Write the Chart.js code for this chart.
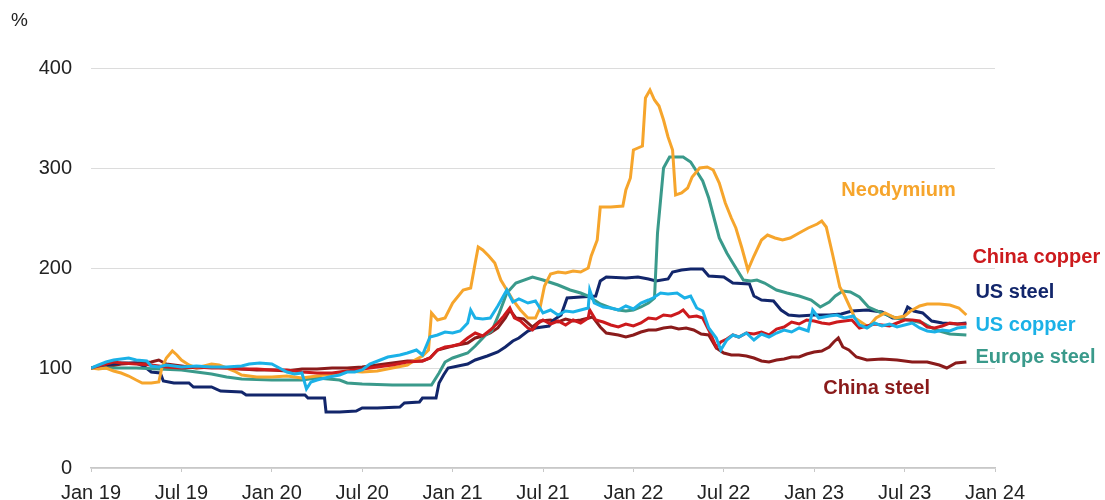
<!DOCTYPE html>
<html>
<head>
<meta charset="utf-8">
<script src="https://cdn.jsdelivr.net/npm/chart.js@4.4.0/dist/chart.umd.min.js"></script>
<style>
  html, body { margin: 0; padding: 0; background: #fff; }
</style>
</head>
<body>
<canvas id="metalChart" width="1105" height="500"></canvas>
<script>
// x values are months since Jan 2019
var xTickLabels = ["Jan 19", "Jul 19", "Jan 20", "Jul 20", "Jan 21", "Jul 21",
  "Jan 22", "Jul 22", "Jan 23", "Jul 23", "Jan 24"];

var seriesNames = ["Neodymium", "China copper", "US steel", "US copper", "Europe steel", "China steel"];

var ndMonths = [0, 0.5, 1, 1.5, 2, 2.5, 3, 3.4, 4, 4.5, 4.7, 5, 5.4, 5.7, 6, 6.5, 7, 7.5, 8, 8.5, 9, 9.5, 10, 11, 12, 13, 14, 15, 16, 17, 18, 19, 20, 21, 21.5, 22, 22.4, 22.6, 23, 23.5, 24, 24.7, 25.2, 25.5, 25.7, 26, 26.4, 26.8, 27.2, 27.6, 28, 28.5, 29, 29.5, 29.8, 30.1, 30.5, 31, 31.5, 32, 32.5, 33, 33.2, 33.6, 33.8, 34.5, 35.3, 35.5, 35.8, 36, 36.3, 36.6, 36.8, 37.1, 37.4, 37.7, 38, 38.3, 38.6, 38.8, 39.2, 39.6, 39.9, 40.4, 40.9, 41.3, 41.7, 42.1, 42.5, 42.8, 43.2, 43.6, 44, 44.5, 44.9, 45.4, 45.9, 46.4, 47, 47.6, 48.2, 48.5, 48.8, 49.2, 49.7, 50, 50.4, 50.7, 51.2, 51.6, 52.1, 52.7, 53.4, 54, 54.4, 55, 55.5, 56.3, 57, 57.6, 58.1];
var ndValues = [100, 99, 100, 97, 95, 92, 88, 85, 85, 86, 100, 110, 117, 113, 108, 103, 100, 102, 104, 103, 100, 97, 93, 91, 91, 92, 90, 92, 94, 97, 96, 97, 100, 103, 108, 112, 118, 155, 148, 150, 165, 178, 180, 205, 221, 218, 212, 205, 188, 178, 168, 158, 150, 150, 160, 182, 194, 196, 195, 197, 196, 200, 212, 228, 261, 261, 262, 278, 290, 318, 320, 322, 370, 378, 368, 362, 348, 331, 318, 273, 275, 280, 291, 300, 301, 298, 285, 265, 250, 240, 220, 198, 212, 228, 233, 230, 228, 230, 235, 240, 244, 247, 241, 215, 181, 173, 160, 150, 145, 141, 150, 155, 150, 152, 157, 162, 164, 164, 163, 160, 153];

var cnCuMonths = [0, 0.5, 1, 1.5, 2, 3, 4, 5, 6, 7, 8, 9, 10, 11, 12, 13, 14, 15, 16, 17, 18, 19, 20, 21, 22, 22.5, 23, 23.5, 24, 24.5, 25, 25.5, 26, 26.5, 27, 27.4, 27.8, 28.1, 28.5, 29, 29.3, 29.7, 30, 30.5, 31, 31.5, 32, 32.5, 33, 33.1, 33.5, 34, 34.5, 35, 35.5, 36, 36.5, 37, 37.5, 38, 38.5, 39, 39.3, 39.7, 40.2, 40.6, 41, 41.5, 41.8, 42.2, 42.6, 43, 43.5, 44, 44.5, 45, 45.5, 46, 46.5, 47, 47.5, 48, 48.5, 49, 49.5, 50, 50.5, 51, 51.5, 52, 52.5, 53, 53.5, 54, 54.5, 55, 55.5, 56, 56.5, 57, 57.5, 58.1];
var cnCuValues = [100, 102, 104, 106, 105, 104, 103, 101, 100, 101, 100, 100, 99, 99, 98, 98, 96, 95, 95, 97, 99, 101, 103, 106, 107, 110, 118, 121, 122, 124, 130, 135, 132, 138, 145, 152, 160, 150, 147, 140, 138, 145, 148, 144, 147, 143, 148, 145, 150, 158, 148, 146, 143, 141, 144, 142, 145, 150, 149, 153, 152, 155, 158, 151, 152, 150, 138, 121, 126, 129, 133, 131, 135, 134, 136, 133, 139, 141, 146, 144, 148, 147, 145, 144, 146, 147, 148, 140, 142, 144, 143, 142, 145, 148, 148, 147, 141, 140, 142, 145, 144, 144];

var usStMonths = [0, 1, 2, 3, 3.5, 4, 4.6, 4.8, 5.5, 6.5, 6.8, 8, 8.6, 10, 10.3, 12, 14.2, 14.4, 15.5, 15.6, 16.5, 17.6, 18, 19, 20.5, 20.8, 21.8, 22, 22.9, 23.1, 23.4, 23.7, 25, 25.5, 26.3, 27, 27.5, 28, 28.4, 29, 29.5, 30.4, 30.7, 31.2, 31.6, 32.5, 33.5, 33.8, 34.2, 35.5, 36.3, 37, 37.5, 38.3, 38.6, 39.2, 39.8, 40.6, 41, 42, 42.6, 43.7, 44, 44.5, 45.3, 45.8, 46.3, 47, 48, 49, 49.8, 50.5, 51.5, 52.5, 53.2, 53.9, 54.2, 54.6, 55.2, 55.8, 56.5, 57.5, 58.1];
var usStValues = [100, 103, 105, 105, 102, 96, 95, 87, 85, 85, 81, 81, 77, 76, 73, 73, 73, 70, 70, 56, 56, 57, 60, 60, 61, 65, 66, 70, 70, 85, 93, 100, 104, 108, 112, 116, 121, 127, 130, 137, 140, 142, 148, 153, 170, 171, 172, 187, 191, 190, 191, 189, 187, 189, 196, 198, 199, 199, 192, 191, 185, 184, 172, 168, 167, 158, 153, 152, 153, 153, 154, 157, 158, 156, 150, 150, 161, 157, 155, 147, 145, 144, 145];

var usCuMonths = [0, 0.5, 1, 1.5, 2, 2.5, 3, 3.7, 4, 4.5, 5, 6, 7, 8, 9, 10, 10.5, 11.2, 12, 12.5, 13, 13.5, 14, 14.3, 14.6, 15, 15.8, 16.5, 17, 17.5, 18, 18.5, 19.2, 19.7, 20.5, 21, 21.6, 22, 22.5, 23, 23.5, 24, 24.5, 25, 25.2, 25.5, 26, 26.5, 27, 27.6, 28, 28.4, 29, 29.5, 30, 30.5, 31, 31.5, 32, 32.5, 33, 33.1, 33.4, 34, 34.5, 35, 35.5, 36, 36.5, 37, 37.3, 37.8, 38.3, 38.9, 39.4, 39.8, 40.2, 40.6, 41, 41.5, 41.8, 42.2, 42.6, 43, 43.5, 44, 44.5, 45, 45.5, 46, 46.5, 47, 47.6, 47.9, 48.3, 49, 49.5, 50, 50.6, 51, 51.5, 52, 52.5, 53, 53.5, 54, 54.5, 55, 55.5, 56, 56.5, 57, 57.5, 58.1];
var usCuValues = [100, 103, 106, 108, 109, 110, 108, 107, 102, 101, 103, 101, 102, 101, 101, 102, 104, 105, 104, 100, 96, 94, 95, 79, 86, 88, 91, 93, 96, 96, 98, 104, 108, 111, 113, 115, 118, 113, 131, 133, 136, 135, 137, 145, 158, 150, 149, 150, 162, 178, 166, 169, 165, 167, 155, 158, 153, 157, 156, 158, 160, 178, 165, 161, 160, 158, 162, 159, 165, 168, 170, 175, 174, 175, 170, 172, 160, 157, 140, 130, 118, 128, 133, 131, 135, 128, 134, 131, 135, 138, 136, 140, 137, 158, 150, 152, 153, 150, 152, 143, 140, 145, 142, 144, 141, 143, 145, 140, 137, 136, 138, 137, 140, 141];

var euStMonths = [0, 3, 6, 7, 8, 9, 10, 12, 14, 15, 16.5, 17, 18, 20, 22.6, 23.1, 23.5, 24, 25, 25.5, 26.2, 26.6, 27.1, 27.6, 28.2, 29.3, 30, 31, 31.8, 32.5, 33, 33.8, 34.5, 35, 35.5, 36, 36.5, 37, 37.4, 37.6, 38, 38.4, 39.3, 39.8, 40.6, 41, 41.7, 42.2, 42.6, 43.3, 43.8, 44.2, 44.7, 45.5, 46.2, 47, 47.8, 48.4, 49, 49.4, 49.9, 50.4, 51, 51.6, 52.5, 53.4, 54.3, 55.2, 56.1, 57, 58.1];
var euStValues = [100, 100, 98, 96, 94, 91, 89, 88, 88, 90, 88, 85, 84, 83, 83, 95, 106, 110, 115, 122, 133, 137, 155, 175, 185, 191, 188, 183, 178, 175, 172, 164, 160, 158, 157, 158, 161, 165, 170, 235, 300, 311, 311, 306, 287, 270, 230, 215, 205, 188, 187, 188, 185, 178, 175, 172, 168, 161, 166, 172, 177, 176, 171, 161, 155, 150, 148, 145, 138, 134, 133];

var cnStMonths = [0, 1, 2, 3, 4, 4.5, 5, 6, 7, 8, 9, 10, 11, 12, 13, 14, 15, 16, 17, 18, 19, 20, 21, 22, 22.5, 23, 24, 25, 25.5, 26, 26.5, 27, 27.5, 27.8, 28.2, 28.7, 29.3, 29.8, 30.5, 31, 31.5, 32, 32.5, 33.3, 33.8, 34.2, 35, 35.5, 36, 36.5, 37, 37.5, 38, 38.5, 39, 39.5, 40, 40.5, 41, 41.5, 42, 42.5, 43, 43.5, 44, 44.5, 45, 45.5, 46, 46.5, 47, 47.5, 48, 48.5, 49, 49.3, 49.6, 49.9, 50.3, 50.8, 51.5, 52.5, 53.5, 54.5, 55.5, 56.3, 56.8, 57.4, 58.1];
var cnStValues = [100, 101, 104, 105, 106, 108, 104, 102, 100, 101, 100, 99, 98, 98, 97, 99, 99, 100, 100, 101, 103, 105, 107, 107, 110, 118, 122, 125, 130, 132, 135, 140, 150, 158, 150, 149, 141, 147, 148, 146, 149, 147, 148, 151, 141, 135, 133, 131, 133, 136, 138, 138, 140, 141, 139, 140, 138, 134, 133, 120, 115, 113, 113, 112, 110, 107, 106, 108, 109, 111, 111, 114, 116, 117, 121, 126, 130, 121, 118, 111, 108, 109, 108, 106, 106, 103, 100, 105, 106];

var lineColors = ["#F6A52C", "#CC1A1D", "#12266B", "#1BB1E7", "#3A9A8B", "#8A1B1B"];
// where each series name sits: [month, value]
var labelSpots = [[49.8, 278], [58.5, 211], [58.7, 176], [58.7, 143], [58.7, 111], [48.6, 80]];
var drawOrder = [3, 2, 5, 1, 4, 6];

var FONT = "'Liberation Sans', Arial, sans-serif";

function toPoints(xs, ys) {
  return xs.map(function(m, i) { return { x: m, y: ys[i] }; });
}

var allMonths = [ndMonths, cnCuMonths, usStMonths, usCuMonths, euStMonths, cnStMonths];
var allValues = [ndValues, cnCuValues, usStValues, usCuValues, euStValues, cnStValues];

var datasets = seriesNames.map(function(name, i) {
  return {
    label: name,
    data: toPoints(allMonths[i], allValues[i]),
    borderColor: lineColors[i],
    backgroundColor: lineColors[i],
    borderWidth: 3,
    pointRadius: 0,
    tension: 0,
    order: drawOrder[i]
  };
});

var seriesLabels = {
  id: "seriesLabels",
  afterDatasetsDraw: function(chart) {
    var ctx = chart.ctx, xs = chart.scales.x, ys = chart.scales.y;
    ctx.save();
    ctx.textBaseline = "middle";
    ctx.textAlign = "left";
    ctx.font = "bold 20px " + FONT;
    labelSpots.forEach(function(s, i) {
      ctx.fillStyle = lineColors[i];
      ctx.fillText(seriesNames[i], xs.getPixelForValue(s[0]), ys.getPixelForValue(s[1]));
    });
    ctx.fillStyle = "#222";
    ctx.font = "19px " + FONT;
    ctx.fillText("%", 11, 21);
    ctx.restore();
  }
};

new Chart(document.getElementById("metalChart"), {
  type: "line",
  data: { datasets: datasets },
  plugins: [seriesLabels],
  options: {
    responsive: false,
    animation: false,
    layout: { padding: { top: 68, right: 110, bottom: 0, left: 0 } },
    plugins: {
      legend: { display: false },
      tooltip: { enabled: false }
    },
    scales: {
      x: {
        type: "linear",
        min: 0,
        max: 60,
        afterFit: function(scale) { scale.height = 32; },
        border: { display: true, color: "#c8c8c8", width: 1.5 },
        grid: { drawOnChartArea: false, drawTicks: true, tickLength: 4, color: "#c8c8c8" },
        ticks: {
          stepSize: 6,
          autoSkip: false,
          maxRotation: 0,
          padding: 9,
          color: "#222",
          font: { family: FONT, size: 20 },
          callback: function(v) { return xTickLabels[v / 6]; }
        }
      },
      y: {
        min: 0,
        max: 400,
        afterFit: function(scale) { scale.width = 91; },
        border: { display: false },
        grid: { color: "#dcdcdc", lineWidth: 1, drawTicks: false },
        ticks: {
          stepSize: 100,
          padding: 19,
          color: "#222",
          font: { family: FONT, size: 20 }
        }
      }
    }
  }
});
</script>
</body>
</html>
